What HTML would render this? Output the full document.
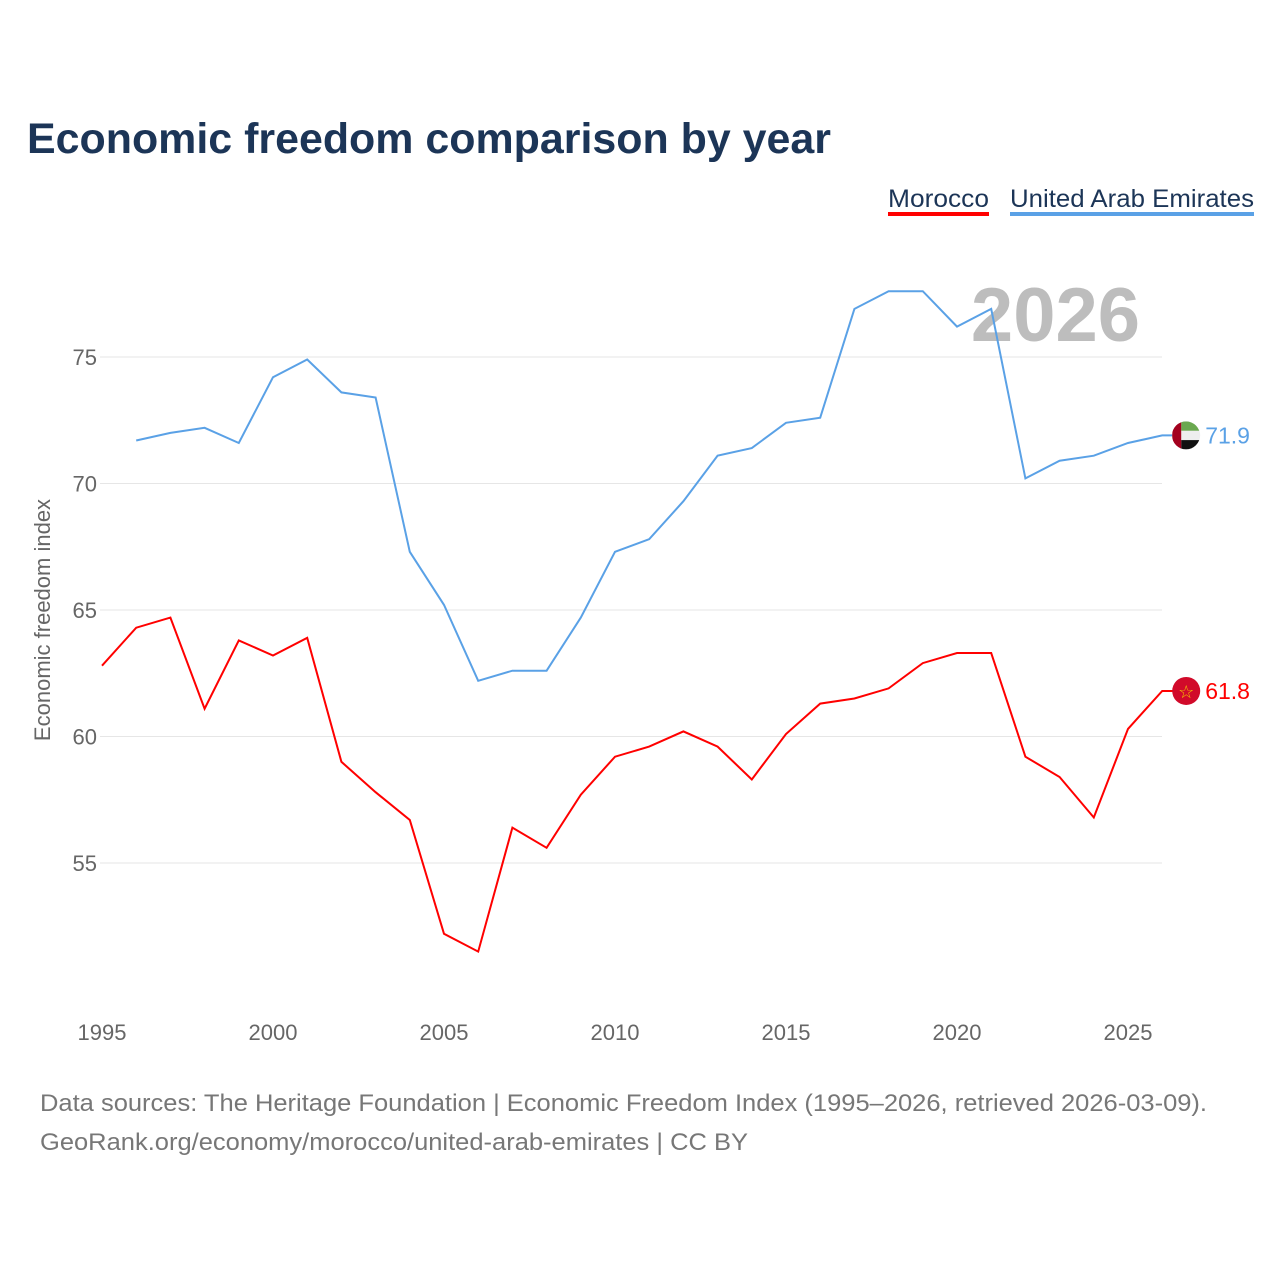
<!DOCTYPE html>
<html><head><meta charset="utf-8"><style>
body{margin:0;background:#fff;font-family:"Liberation Sans",sans-serif;}
svg text{font-family:"Liberation Sans",sans-serif;}
</style></head><body>
<svg id="c" width="1280" height="1280" xmlns="http://www.w3.org/2000/svg">
<defs><clipPath id="uc"><circle cx="1186" cy="434.3" r="14"/></clipPath></defs>
<rect width="1280" height="1280" fill="#fff"/>
<text x="27" y="153" font-size="43" font-weight="bold" fill="#1c3557" textLength="804" lengthAdjust="spacingAndGlyphs">Economic freedom comparison by year</text>
<g>
<text x="888" y="207" font-size="25" fill="#1c3557" textLength="101" lengthAdjust="spacingAndGlyphs">Morocco</text>
<rect x="888" y="212" width="101" height="4" fill="#ff0000"/>
<text x="1010" y="207" font-size="25" fill="#1c3557" textLength="244" lengthAdjust="spacingAndGlyphs">United Arab Emirates</text>
<rect x="1010" y="212" width="244" height="4" fill="#5aa1e6"/>
</g>
<text x="1140" y="341" font-size="76" font-weight="bold" fill="#bdbdbd" text-anchor="end">2026</text>
<text transform="translate(50,620) rotate(-90)" font-size="22" fill="#666" text-anchor="middle">Economic freedom index</text>
<g id="grid"></g><g id="lines"></g>
<text x="40" y="1111" font-size="24" fill="#777" textLength="1167" lengthAdjust="spacingAndGlyphs">Data sources: The Heritage Foundation | Economic Freedom Index (1995–2026, retrieved 2026-03-09).</text>
<text x="40" y="1150" font-size="24" fill="#777" textLength="708" lengthAdjust="spacingAndGlyphs">GeoRank.org/economy/morocco/united-arab-emirates | CC BY</text>
</svg>
<script>
const years=[1995,1996,1997,1998,1999,2000,2001,2002,2003,2004,2005,2006,2007,2008,2009,2010,2011,2012,2013,2014,2015,2016,2017,2018,2019,2020,2021,2022,2023,2024,2025,2026];
const morocco=[62.8,64.3,64.7,61.1,63.8,63.2,63.9,59.0,57.8,56.7,52.2,51.5,56.4,55.6,57.7,59.2,59.6,60.2,59.6,58.3,60.1,61.3,61.5,61.9,62.9,63.3,63.3,59.2,58.4,56.8,60.3,61.8];
const uae=[null,71.7,72.0,72.2,71.6,74.2,74.9,73.6,73.4,67.3,65.2,62.2,62.6,62.6,64.7,67.3,67.8,69.3,71.1,71.4,72.4,72.6,76.9,77.6,77.6,76.2,76.9,70.2,70.9,71.1,71.6,71.9];
const yTicks=[55,60,65,70,75];
const xTicks=[1995,2000,2005,2010,2015,2020,2025];
const NS="http://www.w3.org/2000/svg";
const X=y=>102+(y-1995)*34.2;
const Y=v=>357+(75-v)*25.3;
const g=document.getElementById('grid'),L=document.getElementById('lines');
function mk(t,a,p){const e=document.createElementNS(NS,t);for(const k in a)e.setAttribute(k,a[k]);p.appendChild(e);return e;}
yTicks.forEach(v=>{
 const l=mk('line',{x1:100,x2:1162,y1:Y(v),y2:Y(v),stroke:'#e6e6e6','stroke-width':1},g);
 
 
 const t=mk('text',{x:97,y:Y(v)+8,'font-size':22,fill:'#666','text-anchor':'end'},g);t.textContent=v;
 
 
});
xTicks.forEach(v=>{
 const t=mk('text',{x:X(v),y:1040,'font-size':22,fill:'#666','text-anchor':'middle'},g);t.textContent=v;
 
 
});
function line(vals,col,name){
 let d='';vals.forEach((v,i)=>{if(v==null)return;d+=(d?'L':'M')+X(years[i]).toFixed(1)+','+Y(v).toFixed(1);});
 const last=vals[vals.length-1];const cx=X(years[years.length-1])+24,cy=Y(last);
 d+='L'+(cx-12)+','+cy.toFixed(1);
 const p=mk('path',{d:d,fill:'none',stroke:col,'stroke-width':2},L);
 
 
 const c=mk('circle',{cx:cx,cy:cy,r:14,fill:name=='uae'?'#eee':'#d10a2a'},L);
 
 
 if(name=='uae'){
  const fg=mk('g',{'clip-path':'url(#uc)'},L);
  fg.setAttribute('transform','translate(0,'+(cy-434.3).toFixed(1)+')');
  const by=434.3;
  mk('rect',{x:cx-5,y:by-14,width:19,height:9.3,fill:'#6aa84f'},fg);
  mk('rect',{x:cx-5,y:by+4.7,width:19,height:9.3,fill:'#111'},fg);
  mk('rect',{x:cx-14,y:by-14,width:9,height:28,fill:'#a3001e'},fg);
 } else {
  const s=mk('text',{x:cx,y:cy+7,'font-size':18,fill:'#f5c400','text-anchor':'middle'},L);s.textContent='☆';
 }
 const t=mk('text',{x:cx+19,y:cy+8,'font-size':23,fill:col},L);t.textContent=last.toFixed(1);
 
 
}
line(uae,'#5aa1e6','uae');
line(morocco,'#ff0000','morocco');
</script>
</body></html>
